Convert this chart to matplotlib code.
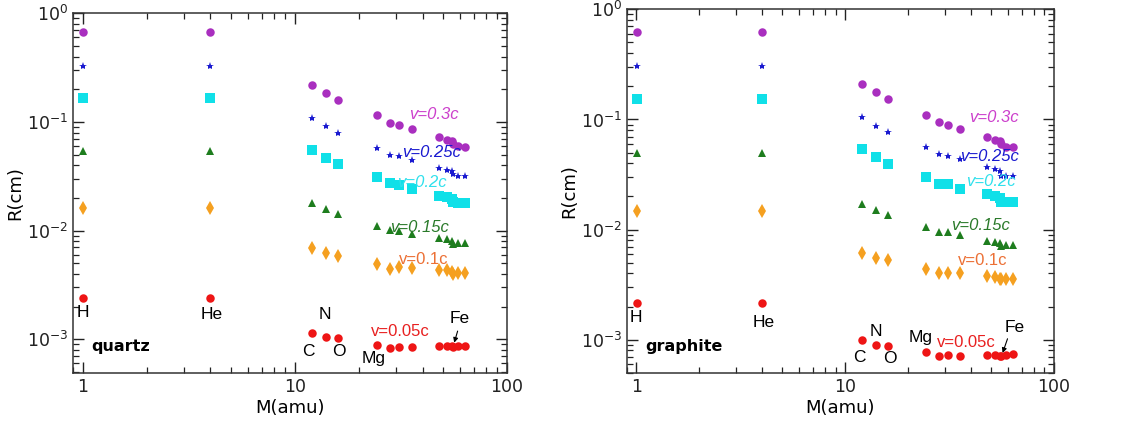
import matplotlib
matplotlib.use("Agg")
import matplotlib.pyplot as plt
from matplotlib.ticker import LogLocator, NullFormatter, FixedLocator, FixedFormatter

# Ion masses (amu): H, He, C, N, O, Mg, Si, P, Cl, Ti, Cr, Mn, Fe, Ni, Cu
mass = [1.008, 4.0, 12.0, 14.0, 16.0, 24.3, 28.1, 31.0, 35.5, 47.9, 52.0, 54.9, 55.8, 58.7, 63.5]

# quartz ranges R (cm)
q_v03 = [0.666, 0.666, 0.218, 0.186, 0.160, 0.116, 0.098, 0.094, 0.086, 0.073, 0.068, 0.067, 0.0624, 0.060, 0.059]
q_v025 = [0.329, 0.329, 0.108, 0.091, 0.080, 0.058, 0.050, 0.049, 0.0445, 0.038, 0.0363, 0.0355, 0.033, 0.032, 0.032]
q_v02 = [0.165, 0.165, 0.055, 0.0464, 0.0409, 0.0309, 0.0272, 0.0265, 0.0241, 0.021, 0.0202, 0.0195, 0.0182, 0.018, 0.018]
q_v015 = [0.0545, 0.0545, 0.0178, 0.0158, 0.0142, 0.0111, 0.0101, 0.0099, 0.0093, 0.0086, 0.0083, 0.0081, 0.0076, 0.0077, 0.0077]
q_v01 = [0.0162, 0.0162, 0.0069, 0.0062, 0.0059, 0.0049, 0.0044, 0.0046, 0.0045, 0.0043, 0.0043, 0.0042, 0.0040, 0.0041, 0.0041]
q_v005 = [0.0024, 0.0024, 0.00115, 0.00105, 0.00103, 0.00088, 0.00084, 0.00085, 0.00085, 0.00086, 0.00086, 0.00086, 0.00085, 0.00086, 0.00087]

# graphite ranges R (cm)
g_v03 = [0.620, 0.620, 0.211, 0.177, 0.154, 0.110, 0.0946, 0.090, 0.082, 0.0695, 0.0658, 0.0635, 0.0605, 0.0565, 0.0565]
g_v025 = [0.306, 0.306, 0.105, 0.088, 0.0777, 0.056, 0.0488, 0.047, 0.044, 0.037, 0.0352, 0.034, 0.031, 0.0305, 0.031]
g_v02 = [0.154, 0.154, 0.054, 0.0455, 0.0396, 0.0299, 0.0262, 0.0257, 0.0234, 0.0209, 0.0202, 0.0195, 0.018, 0.0178, 0.0179]
g_v015 = [0.0495, 0.0495, 0.0171, 0.015, 0.0137, 0.0105, 0.0095, 0.0095, 0.0089, 0.0079, 0.0078, 0.0076, 0.0071, 0.0072, 0.0072]
g_v01 = [0.0147, 0.0147, 0.0061, 0.0055, 0.0053, 0.0044, 0.0040, 0.0040, 0.0040, 0.00377, 0.00375, 0.0036, 0.0036, 0.0036, 0.0036]
g_v005 = [0.00216, 0.00215, 0.00099, 0.00090, 0.00087, 0.00077, 0.00072, 0.00073, 0.00072, 0.00073, 0.00073, 0.00072, 0.00072, 0.00073, 0.00075]

speed_labels = ["v=0.3c", "v=0.25c", "v=0.2c", "v=0.15c", "v=0.1c", "v=0.05c"]
materials = ["quartz", "graphite"]

styles = [
    dict(marker="o", color="#a92fbf", ms=6.1),
    dict(marker="*", color="#1a1ad0", ms=6.0),
    dict(marker="s", color="#10e0e8", ms=6.5),
    dict(marker="^", color="#1e7d1e", ms=6.0),
    dict(marker="d", color="#f5a020", ms=6.8),
    dict(marker="o", color="#ee1515", ms=6.1),
]
text_colors = ["#cc40cc", "#1a1ad0", "#30e0ec", "#2a7a2a", "#ec7035", "#e82020"]
text_italic = [True, True, True, True, False, False]

fig = plt.figure(figsize=(11.32, 4.25), dpi=100)
ax1 = fig.add_axes([0.0645, 0.1224, 0.3834, 0.8463])
ax2 = fig.add_axes([0.5536, 0.1224, 0.3775, 0.8557])

panels = [
    (ax1, [q_v03, q_v025, q_v02, q_v015, q_v01, q_v005], (0.9, 100), (4.9e-4, 1.0),
     [(34.7, 0.118), (31.9, 0.052), (30.2, 0.028), (28.1, 0.0108), (30.8, 0.0054), (22.8, 0.00117)],
     [("H", 1.0, 0.00175), ("He", 4.06, 0.00168), ("N", 13.9, 0.00168), ("C", 11.6, 0.00078),
      ("O", 16.1, 0.00077), ("Mg", 23.5, 0.00066), ("Fe", 60, 0.00155)],
     ((59, 0.00126), (55.9, 0.00088)), (1.1, 0.00085)),
    (ax2, [g_v03, g_v025, g_v02, g_v015, g_v01, g_v005], (0.9, 100), (5e-4, 1.0),
     [(39.3, 0.105), (35.5, 0.046), (37.9, 0.0274), (32.0, 0.0109), (34.5, 0.0052), (27.4, 0.00094)],
     [("H", 1.0, 0.00158), ("He", 4.09, 0.00145), ("N", 14.1, 0.0012), ("C", 11.7, 0.00069),
      ("O", 16.3, 0.00068), ("Mg", 23.0, 0.00104), ("Fe", 65, 0.00129)],
     ((60.5, 0.00108), (56.2, 0.00072)), (1.1, 0.00087)),
]

for (ax, series, xl, yl, tpos, elabels, arrow, matpos), mat in zip(panels, materials):
    for vals, st in zip(series, styles):
        ax.plot(mass, vals, linestyle="none", marker=st["marker"], color=st["color"],
                ms=st["ms"], markeredgewidth=0)
    for lab, (tx, ty), c, it in zip(speed_labels, tpos, text_colors, text_italic):
        ax.text(tx, ty, lab, color=c, fontsize=12, style="italic" if it else "normal",
                ha="left", va="center", family="Liberation Sans")
    for lab, ex, ey in elabels:
        ax.text(ex, ey, lab, color="black", fontsize=12.5, ha="center", va="center",
                family="Liberation Sans")
    ax.annotate("", xy=arrow[1], xytext=arrow[0],
                arrowprops=dict(arrowstyle="-|>", color="black", lw=0.8, mutation_scale=7))
    ax.text(matpos[0], matpos[1], mat, fontsize=11.5, fontweight="bold", ha="left", va="center")

    ax.set_xscale("log")
    ax.set_yscale("log")
    ax.set_xlim(*xl)
    ax.set_ylim(*yl)
    ax.xaxis.set_major_locator(FixedLocator([1, 10, 100]))
    ax.xaxis.set_major_formatter(FixedFormatter(["1", "10", "100"]))
    ax.xaxis.set_minor_locator(LogLocator(base=10, subs=range(2, 10)))
    ax.xaxis.set_minor_formatter(NullFormatter())
    ax.yaxis.set_major_locator(LogLocator(base=10, numticks=10))
    ax.yaxis.set_minor_locator(LogLocator(base=10, subs=range(2, 10), numticks=10))
    ax.yaxis.set_minor_formatter(NullFormatter())
    ax.tick_params(which="both", direction="in", top=True, right=True, labelsize=12.5, colors="#222222")
    ax.tick_params(which="major", length=8, width=1.0)
    ax.tick_params(which="minor", length=4.5, width=0.9)
    for sp in ax.spines.values():
        sp.set_color("#333333")
        sp.set_linewidth(1.1)
    ax.set_xlabel("M(amu)", fontsize=13, labelpad=2)
    ax.set_ylabel("R(cm)", fontsize=13, labelpad=2)

fig.savefig("out.png", dpi=100)
